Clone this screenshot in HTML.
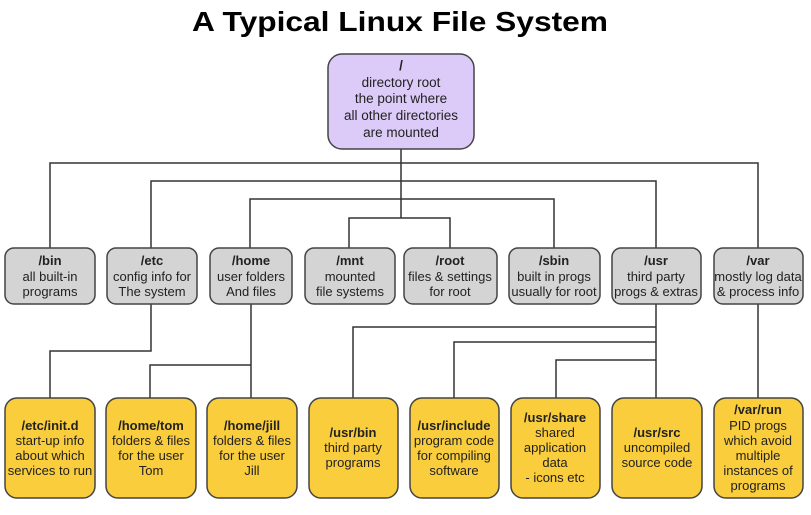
<!DOCTYPE html>
<html><head><meta charset="utf-8"><style>
html,body{margin:0;padding:0;background:#fff;}
svg{display:block;}
text{font-family:"Liberation Sans",Arial,sans-serif;fill:#222;}
</style></head><body>
<svg width="811" height="515" viewBox="0 0 811 515" xmlns="http://www.w3.org/2000/svg">
<text x="400" y="31" text-anchor="middle" font-size="28" font-weight="bold" textLength="416" lengthAdjust="spacingAndGlyphs" style="fill:#000">A Typical Linux File System</text>
<g stroke="#333" stroke-width="1.5" fill="none">
<path d="M401 149V218"/>
<path d="M50 248V163H758V248"/>
<path d="M151 248V181H656V248"/>
<path d="M250 248V199H554V248"/>
<path d="M349 248V218H450V248"/>
<path d="M151 304V351H50V398"/>
<path d="M251 304V398M251 365H150V398"/>
<path d="M656 304V398M656 327H353V398M656 342H454V398M656 360H556V398"/>
<path d="M758 304V398"/>
</g>
<rect x="328" y="54" width="146" height="95" rx="14" fill="#dccbf8" stroke="#444" stroke-width="1.5"/>
<g font-size="13.5" text-anchor="middle">
<text x="401" y="70" font-weight="bold">/</text>
<text x="401" y="87">directory root</text>
<text x="401" y="103">the point where</text>
<text x="401" y="120">all other directories</text>
<text x="401" y="137">are mounted</text>
</g>
<g fill="#d4d4d4" stroke="#444" stroke-width="1.5">
<rect x="5" y="248" width="90" height="56" rx="9"/>
<rect x="107" y="248" width="90" height="56" rx="9"/>
<rect x="210" y="248" width="82" height="56" rx="9"/>
<rect x="305" y="248" width="90" height="56" rx="9"/>
<rect x="404" y="248" width="93" height="56" rx="9"/>
<rect x="509" y="248" width="91" height="56" rx="9"/>
<rect x="612" y="248" width="89" height="56" rx="9"/>
<rect x="714" y="248" width="89" height="56" rx="9"/>
</g>
<g fill="#f9cd3c" stroke="#444" stroke-width="1.5">
<rect x="5" y="398" width="90" height="100" rx="12"/>
<rect x="106" y="398" width="90" height="100" rx="12"/>
<rect x="207" y="398" width="90" height="100" rx="12"/>
<rect x="309" y="398" width="89" height="100" rx="12"/>
<rect x="410" y="398" width="89" height="100" rx="12"/>
<rect x="511" y="398" width="89" height="100" rx="12"/>
<rect x="612" y="398" width="90" height="100" rx="12"/>
<rect x="714" y="398" width="89" height="100" rx="12"/>
</g>
<g font-size="13" text-anchor="middle">
<text x="50" y="265" font-weight="bold">/bin</text><text x="50" y="281">all built-in</text><text x="50" y="296">programs</text>
<text x="152" y="265" font-weight="bold">/etc</text><text x="152" y="281">config info for</text><text x="152" y="296">The system</text>
<text x="251" y="265" font-weight="bold">/home</text><text x="251" y="281">user folders</text><text x="251" y="296">And files</text>
<text x="350" y="265" font-weight="bold">/mnt</text><text x="350" y="281">mounted</text><text x="350" y="296">file systems</text>
<text x="450" y="265" font-weight="bold">/root</text><text x="450" y="281">files &amp; settings</text><text x="450" y="296">for root</text>
<text x="554" y="265" font-weight="bold">/sbin</text><text x="554" y="281">built in progs</text><text x="554" y="296">usually for root</text>
<text x="656" y="265" font-weight="bold">/usr</text><text x="656" y="281">third party</text><text x="656" y="296">progs &amp; extras</text>
<text x="758" y="265" font-weight="bold">/var</text><text x="758" y="281">mostly log data</text><text x="758" y="296">&amp; process info</text>

<text x="50" y="430" font-weight="bold">/etc/init.d</text><text x="50" y="445">start-up info</text><text x="50" y="460">about which</text><text x="50" y="475">services to run</text>
<text x="151" y="430" font-weight="bold">/home/tom</text><text x="151" y="445">folders &amp; files</text><text x="151" y="460">for the user</text><text x="151" y="475">Tom</text>
<text x="252" y="430" font-weight="bold">/home/jill</text><text x="252" y="445">folders &amp; files</text><text x="252" y="460">for the user</text><text x="252" y="475">Jill</text>
<text x="353" y="437" font-weight="bold">/usr/bin</text><text x="353" y="452">third party</text><text x="353" y="467">programs</text>
<text x="454" y="430" font-weight="bold">/usr/include</text><text x="454" y="445">program code</text><text x="454" y="460">for compiling</text><text x="454" y="475">software</text>
<text x="555" y="422" font-weight="bold">/usr/share</text><text x="555" y="437">shared</text><text x="555" y="452">application</text><text x="555" y="467">data</text><text x="555" y="482">- icons etc</text>
<text x="657" y="437" font-weight="bold">/usr/src</text><text x="657" y="452">uncompiled</text><text x="657" y="467">source code</text>
<text x="758" y="414" font-weight="bold">/var/run</text><text x="758" y="430">PID progs</text><text x="758" y="445">which avoid</text><text x="758" y="460">multiple</text><text x="758" y="475">instances of</text><text x="758" y="490">programs</text>
</g>
</svg>
</body></html>
